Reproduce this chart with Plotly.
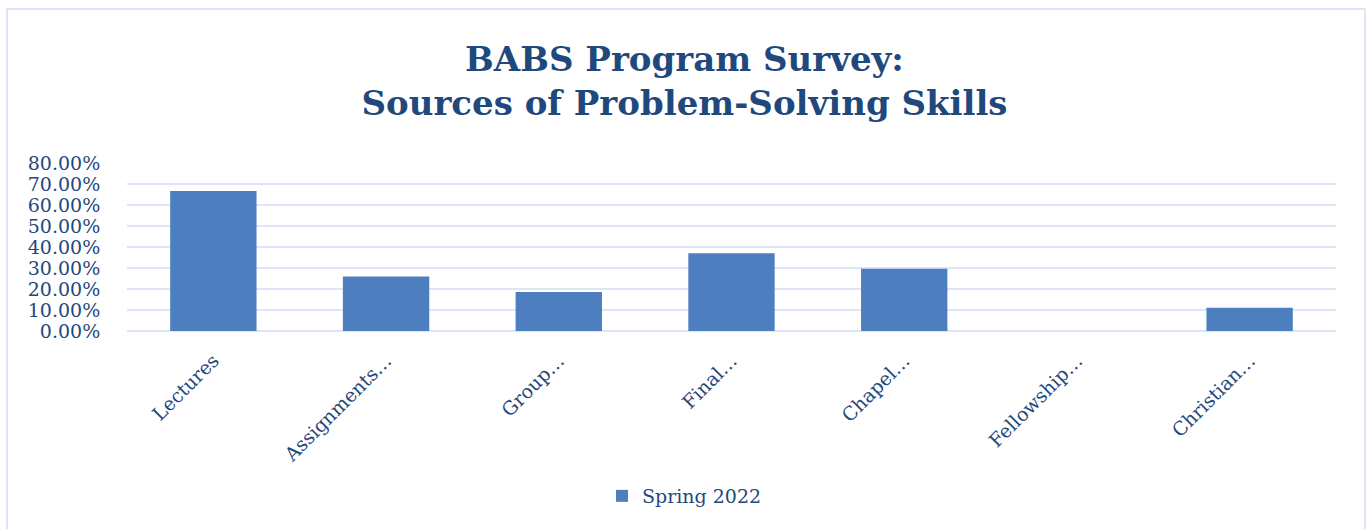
import plotly.graph_objects as go

# Survey responses (share of respondents citing each source)
categories = ["Lectures", "Assignments…", "Group…", "Final…", "Chapel…", "Fellowship…", "Christian…"]
spring_2022 = [0.6667, 0.2593, 0.1852, 0.3704, 0.2963, 0.0, 0.1111]
y_ticks = [0, 0.1, 0.2, 0.3, 0.4, 0.5, 0.6, 0.7, 0.8]

TEXT = "#1F497D"
GRID = "#DCE6F4"
FONT = "DejaVu Serif"

fig = go.Figure()
fig.add_trace(go.Bar(
    x=categories,
    y=spring_2022,
    name="Spring 2022",
    marker=dict(color="#4D7FC0", line=dict(width=0)),
    width=0.5,
))

fig.update_layout(
    width=1369,
    height=529,
    margin=dict(l=127, r=33, t=163, b=198),
    paper_bgcolor="white",
    plot_bgcolor="white",
    font=dict(family=FONT, color=TEXT, size=19),
    title=dict(
        text="BABS Program Survey:<br>Sources of Problem-Solving Skills",
        x=0.5, xref="container", xanchor="center",
        y=1 - 71 / 529, yref="container", yanchor="middle",
        font=dict(family=FONT, size=34, color=TEXT, weight="bold"),
    ),
    showlegend=True,
    legend=dict(
        orientation="h",
        x=0.5, xref="container", xanchor="center",
        y=1 - 496 / 529, yref="container", yanchor="middle",
        font=dict(size=19, color=TEXT),
    ),
    bargap=0.5,
)

fig.update_xaxes(
    automargin=False,
    tickangle=-45,
    tickfont=dict(size=19, color=TEXT),
    showgrid=False,
    showline=False,
    ticks="outside",
    ticklen=10,
    tickcolor="rgba(0,0,0,0)",
)
fig.update_yaxes(
    automargin=False,
    range=[0, 0.8],
    tickvals=y_ticks,
    tickformat=".2%",
    tickfont=dict(size=19, color=TEXT),
    showgrid=True,
    gridcolor=GRID,
    gridwidth=2,
    zeroline=True,
    zerolinecolor=GRID,
    zerolinewidth=2,
    showline=False,
    ticks="outside",
    ticklen=22,
    tickcolor="rgba(0,0,0,0)",
)

# Light outer frame around the chart area
fig.add_shape(
    type="rect",
    xref="paper", yref="paper",
    x0=(7 - 127) / 1209, x1=(1365 - 127) / 1209,
    y0=(331 - 540) / 168, y1=(331 - 9) / 168,
    line=dict(color=GRID, width=2),
    fillcolor="rgba(0,0,0,0)",
    layer="below",
)

fig.write_html("out.html")
